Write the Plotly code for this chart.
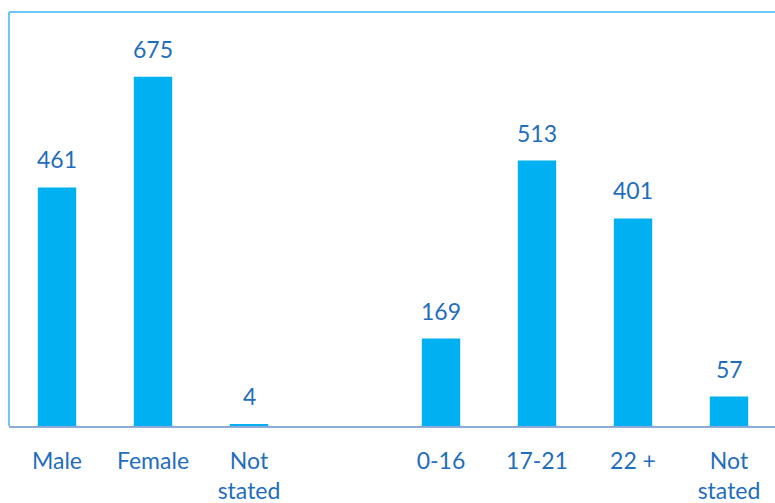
import plotly.graph_objects as go

# Respondents by gender, then by age group (blank slot separates the groups)
categories = ["Male", "Female", "Not<br>stated", "", "0-16", "17-21", "22 +", "Not<br>stated"]
counts = [461, 675, 4, None, 169, 513, 401, 57]

positions = list(range(len(categories)))
bar_x = [p for p, v in zip(positions, counts) if v is not None]
bar_y = [v for v in counts if v is not None]

BAR = "#00b0f0"
TEXT = "#1f6dbd"
FONT = "Lato, 'Open Sans', sans-serif"

fig = go.Figure(
    go.Bar(
        x=bar_x,
        y=bar_y,
        marker=dict(color=BAR, line=dict(width=0)),
        width=0.4,
        hoverinfo="skip",
    )
)

for x, v in zip(bar_x, bar_y):
    fig.add_annotation(
        x=x, y=v, text=str(v), showarrow=False,
        yanchor="bottom", yshift=12,
        font=dict(family=FONT, size=23, color=TEXT),
    )

W, H = 775, 503
left, top, bottom_px = 9, 12, 426

fig.update_layout(
    width=W, height=H,
    margin=dict(l=left, r=0, t=top, b=H - bottom_px),
    paper_bgcolor="white", plot_bgcolor="white",
    showlegend=False,
    xaxis=dict(
        range=[-0.5, 7.5 - 2 / 96],
        tickvals=positions, ticktext=categories,
        showgrid=False, zeroline=False,
        showline=True, linecolor="#8eaadb", linewidth=2,
        ticks="", ticklabelstandoff=13, automargin=False,
        tickfont=dict(family=FONT, size=23, color=TEXT),
        fixedrange=True,
    ),
    yaxis=dict(
        range=[0, 800], visible=False, fixedrange=True, automargin=False,
    ),
    shapes=[
        dict(type="line", xref="paper", yref="paper",
             x0=0, x1=0, y0=0, y1=1, line=dict(color="#6cc6f6", width=2)),
        dict(type="line", xref="paper", yref="paper",
             x0=0, x1=1, y0=1, y1=1, line=dict(color="#6cc6f6", width=2)),
    ],
)

fig.write_html("out.html")
